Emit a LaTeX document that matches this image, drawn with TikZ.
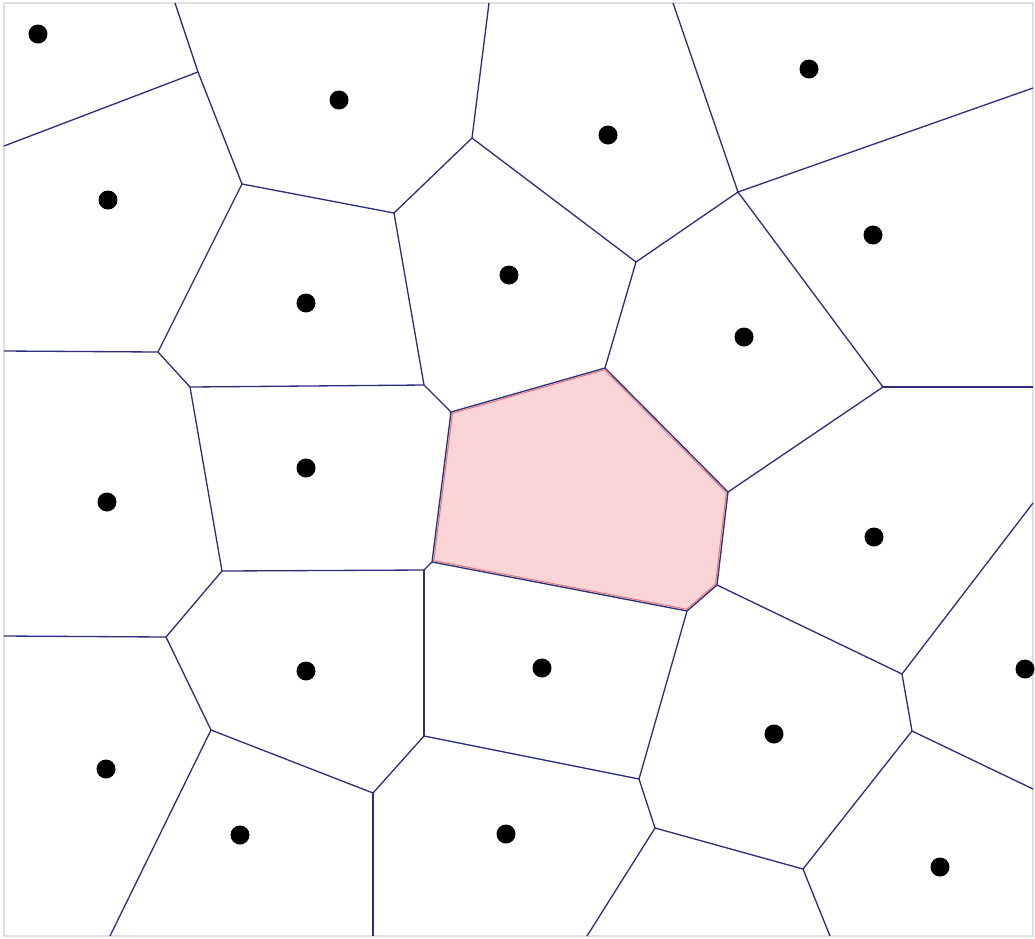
\documentclass[tikz,border=0pt]{standalone}
\definecolor{edgeblue}{RGB}{45,45,125}
\definecolor{cellpink}{RGB}{250,212,214}
\definecolor{cellred}{RGB}{225,115,115}
\begin{document}
\begin{tikzpicture}[x=0.02cm, y=-0.02cm,
  edge/.style={draw=edgeblue, line width=0.75pt},
  site/.style={circle, fill=black, inner sep=0pt, minimum size=0.38cm}]
\useasboundingbox (0,0) rectangle (1035,938);
\draw[gray!25, line width=0.8pt] (4,3) rectangle (1033,936);

% vertices of the cells
\coordinate (A) at (198,72);
\coordinate (B) at (242,184);
\coordinate (C) at (394,213);
\coordinate (D) at (472,138);
\coordinate (E) at (636,262);
\coordinate (F) at (158,352);
\coordinate (G) at (190,387);
\coordinate (H) at (424,385);
\coordinate (I) at (451,412);
\coordinate (K) at (605,368);
\coordinate (L) at (738,192);
\coordinate (M) at (883,387);
\coordinate (N) at (728,492);
\coordinate (O) at (717,585);
\coordinate (P) at (687,611);
\coordinate (R) at (432,562);
\coordinate (S) at (424,570);
\coordinate (J) at (222,571);
\coordinate (T) at (424,736);
\coordinate (U) at (373,793);
\coordinate (V) at (211,730);
\coordinate (W) at (166,637);
\coordinate (X) at (639,779);
\coordinate (Y) at (655,828);
\coordinate (Z) at (803,869);
\coordinate (AA) at (912,731);
\coordinate (AB) at (902,674);

% ends on the frame
\coordinate (t1) at (175,3);
\coordinate (t2) at (489,3);
\coordinate (t3) at (673,3);
\coordinate (l1) at (4,146);
\coordinate (l2) at (4,351);
\coordinate (l3) at (4,636);
\coordinate (r1) at (1033,88);
\coordinate (r2) at (1033,387);
\coordinate (r3) at (1033,503);
\coordinate (r4) at (1033,789);
\coordinate (b1) at (110,936);
\coordinate (b2) at (373,936);
\coordinate (b3) at (587,936);
\coordinate (b4) at (830,936);

% highlighted cell
\fill[cellpink] (I) -- (K) -- (N) -- (O) -- (P) -- (R) -- cycle;
\begin{scope}
\clip (I) -- (K) -- (N) -- (O) -- (P) -- (R) -- cycle;
\draw[cellred, line width=2.4pt] (I) -- (K) -- (N) -- (O) -- (P) -- (R) -- cycle;
\draw[cellpink!60!white, line width=1.2pt] (I) -- (K) -- (N) -- (O) -- (P) -- (R) -- cycle;
\end{scope}

% edges
\draw[edge] (t1) -- (A);
\draw[edge] (A) -- (l1);
\draw[edge] (A) -- (B);
\draw[edge] (B) -- (C);
\draw[edge] (C) -- (D);
\draw[edge] (D) -- (t2);
\draw[edge] (D) -- (E);
\draw[edge] (B) -- (F);
\draw[edge] (F) -- (l2);
\draw[edge] (F) -- (G);
\draw[edge] (G) -- (H);
\draw[edge] (C) -- (H);
\draw[edge] (H) -- (I);
\draw[edge] (G) -- (J);
\draw[edge] (I) -- (K);
\draw[edge] (K) -- (E);
\draw[edge] (E) -- (L);
\draw[edge] (L) -- (t3);
\draw[edge] (L) -- (r1);
\draw[edge] (L) -- (M);
\draw[edge] (M) -- (r2);
\draw[edge] (M) -- (N);
\draw[edge] (K) -- (N);
\draw[edge] (N) -- (O);
\draw[edge] (O) -- (P);
\draw[edge] (P) -- (R);
\draw[edge] (R) -- (I);
\draw[edge] (R) -- (S);
\draw[edge] (S) -- (J);
\draw[edge] (S) -- (T);
\draw[edge] (T) -- (U);
\draw[edge] (U) -- (b2);
\draw[edge] (U) -- (V);
\draw[edge] (V) -- (W);
\draw[edge] (W) -- (l3);
\draw[edge] (W) -- (J);
\draw[edge] (V) -- (b1);
\draw[edge] (T) -- (X);
\draw[edge] (P) -- (X);
\draw[edge] (X) -- (Y);
\draw[edge] (Y) -- (b3);
\draw[edge] (Y) -- (Z);
\draw[edge] (Z) -- (b4);
\draw[edge] (Z) -- (AA);
\draw[edge] (AA) -- (r4);
\draw[edge] (AA) -- (AB);
\draw[edge] (AB) -- (r3);
\draw[edge] (O) -- (AB);

% sites
\node[site] (s1) at (38,34) {};
\node[site] (s2) at (339,100) {};
\node[site] (s3) at (608,135) {};
\node[site] (s4) at (809,69) {};
\node[site] (s5) at (108,200) {};
\node[site] (s6) at (306,303) {};
\node[site] (s7) at (509,275) {};
\node[site] (s8) at (873,235) {};
\node[site] (s9) at (744,337) {};
\node[site] (s10) at (306,468) {};
\node[site] (s11) at (107,502) {};
\node[site] (s12) at (874,537) {};
\node[site] (s13) at (306,671) {};
\node[site] (s14) at (542,668) {};
\node[site] (s15) at (1025,669) {};
\node[site] (s16) at (106,769) {};
\node[site] (s17) at (774,734) {};
\node[site] (s18) at (240,835) {};
\node[site] (s19) at (506,834) {};
\node[site] (s20) at (940,867) {};
\end{tikzpicture}
\end{document}
